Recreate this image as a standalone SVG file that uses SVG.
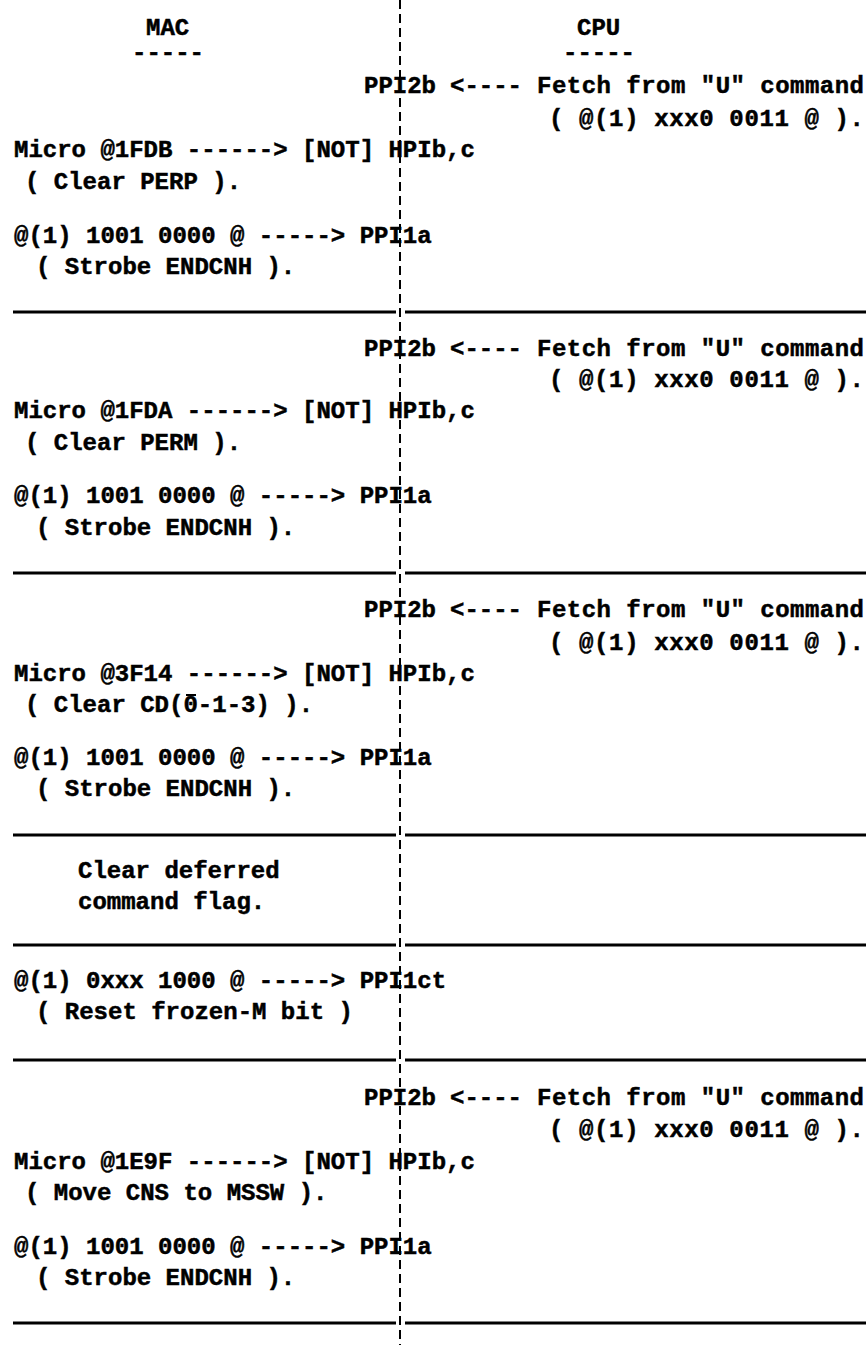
<svg xmlns="http://www.w3.org/2000/svg" width="867" height="1359" viewBox="0 0 867 1359">
<style>
text{font-family:"Liberation Mono","DejaVu Sans Mono",monospace;font-size:24px;font-weight:bold;fill:#000;stroke:#000;stroke-width:0.5;white-space:pre}
.sep{stroke:#000;stroke-width:3;fill:none}
.vdiv{stroke:#000;stroke-width:2;stroke-dasharray:9 5;fill:none}
.bar{stroke:#000;stroke-width:2}
</style>
<rect width="867" height="1359" fill="#fff"/>
<g id="rules">
<line class="vdiv" x1="400" y1="0" x2="400" y2="1345"/>
<line class="sep" x1="13" y1="312" x2="396" y2="312"/><line class="sep" x1="405" y1="312" x2="866" y2="312"/>
<line class="sep" x1="13" y1="573" x2="396" y2="573"/><line class="sep" x1="405" y1="573" x2="866" y2="573"/>
<line class="sep" x1="13" y1="835" x2="396" y2="835"/><line class="sep" x1="405" y1="835" x2="866" y2="835"/>
<line class="sep" x1="13" y1="945" x2="396" y2="945"/><line class="sep" x1="405" y1="945" x2="866" y2="945"/>
<line class="sep" x1="13" y1="1060" x2="396" y2="1060"/><line class="sep" x1="405" y1="1060" x2="866" y2="1060"/>
<line class="sep" x1="13" y1="1323" x2="396" y2="1323"/><line class="sep" x1="405" y1="1323" x2="866" y2="1323"/>
</g>
<g id="header">
<text x="146" y="35">MAC</text>
<text x="132" y="60">-----</text>
<text x="577" y="35">CPU</text>
<text x="563" y="60">-----</text>
</g>
<g id="block1">
<text x="364" y="93">PPI2b</text><text x="450" y="93">&lt;----</text><text x="537" y="93" textLength="327" lengthAdjust="spacing">Fetch from "U" command</text>
<text x="549" y="126" textLength="315" lengthAdjust="spacing">( @(1) xxx0 0011 @ ).</text>
<text x="14" y="157">Micro @1FDB ------&gt; [NOT] HPIb,c</text>
<text x="25" y="189">( Clear PERP ).</text>
<text x="14" y="243">@(1) 1001 0000 @ -----&gt; PPI1a</text>
<text x="36" y="274">( Strobe ENDCNH ).</text>
</g>
<g id="block2">
<text x="364" y="356">PPI2b</text><text x="450" y="356">&lt;----</text><text x="537" y="356" textLength="327" lengthAdjust="spacing">Fetch from "U" command</text>
<text x="549" y="387" textLength="315" lengthAdjust="spacing">( @(1) xxx0 0011 @ ).</text>
<text x="14" y="418">Micro @1FDA ------&gt; [NOT] HPIb,c</text>
<text x="25" y="450">( Clear PERM ).</text>
<text x="14" y="503">@(1) 1001 0000 @ -----&gt; PPI1a</text>
<text x="36" y="535">( Strobe ENDCNH ).</text>
</g>
<g id="block3">
<text x="364" y="617">PPI2b</text><text x="450" y="617">&lt;----</text><text x="537" y="617" textLength="327" lengthAdjust="spacing">Fetch from "U" command</text>
<text x="549" y="650" textLength="315" lengthAdjust="spacing">( @(1) xxx0 0011 @ ).</text>
<text x="14" y="681">Micro @3F14 ------&gt; [NOT] HPIb,c</text>
<text x="25" y="712">( Clear CD(0-1-3) ).</text>
<line class="bar" x1="186" y1="695" x2="196" y2="695"/>
<text x="14" y="765">@(1) 1001 0000 @ -----&gt; PPI1a</text>
<text x="36" y="796">( Strobe ENDCNH ).</text>
</g>
<g id="block4">
<text x="78" y="878">Clear deferred</text>
<text x="78" y="909">command flag.</text>
</g>
<g id="block5">
<text x="14" y="988">@(1) 0xxx 1000 @ -----&gt; PPI1ct</text>
<text x="36" y="1019">( Reset frozen-M bit )</text>
</g>
<g id="block6">
<text x="364" y="1105">PPI2b</text><text x="450" y="1105">&lt;----</text><text x="537" y="1105" textLength="327" lengthAdjust="spacing">Fetch from "U" command</text>
<text x="549" y="1137" textLength="315" lengthAdjust="spacing">( @(1) xxx0 0011 @ ).</text>
<text x="14" y="1169">Micro @1E9F ------&gt; [NOT] HPIb,c</text>
<text x="25" y="1200">( Move CNS to MSSW ).</text>
<text x="14" y="1254">@(1) 1001 0000 @ -----&gt; PPI1a</text>
<text x="36" y="1285">( Strobe ENDCNH ).</text>
</g>
</svg>
